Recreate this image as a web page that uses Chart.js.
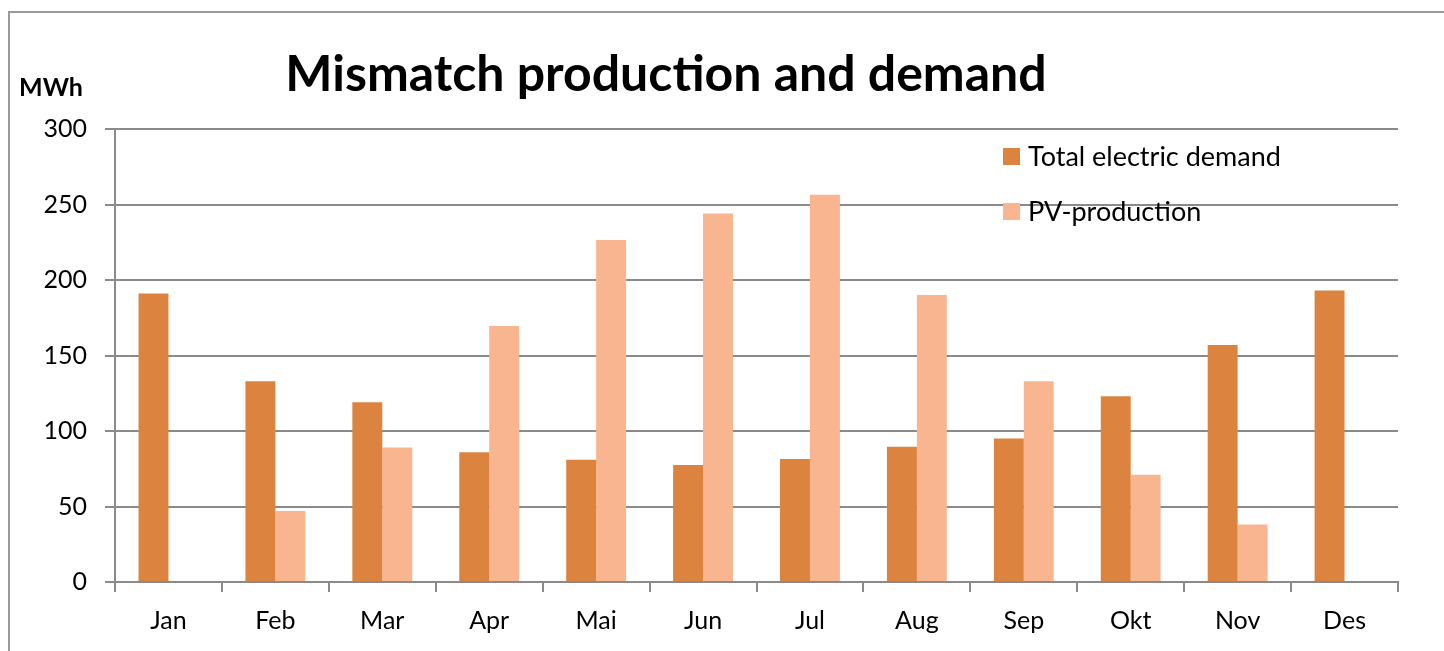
<!DOCTYPE html>
<html lang="en">
<head>
<meta charset="UTF-8">
<title>Mismatch production and demand</title>
<script src="https://cdn.jsdelivr.net/npm/chart.js"></script>
<style>
    html, body {
        margin: 0;
        padding: 0;
        background-color: #fff;
    }
    #wrap {
        width: 1444px;
        height: 651px;
        position: relative;
    }
</style>
</head>
<body>
<div id="wrap">
    <canvas id="mismatchChart" width="1444" height="651"></canvas>
</div>

<script>
    const months = ['Jan', 'Feb', 'Mar', 'Apr', 'Mai', 'Jun', 'Jul', 'Aug', 'Sep', 'Okt', 'Nov', 'Des'];
    const demandValues = [191, 133, 119, 86, 81, 77.5, 81.5, 89.5, 95, 123, 157, 193];
    const pvValues = [0, 47, 89, 169.5, 226.5, 244, 256.5, 190, 133, 71, 38, 0];
    const yTicks = [0, 50, 100, 150, 200, 250, 300];

    const fontFamily = 'Lato, "Open Sans", sans-serif';
    const gridGray = '#8a8a8a';

    // title, unit label, frame and legend drawn on the canvas
    const decorations = {
        id: 'decorations',
        afterDraw(chart) {
            const ctx = chart.ctx;
            ctx.save();
            ctx.strokeStyle = '#9a9a9a';
            ctx.lineWidth = 2;
            ctx.strokeRect(9, 12, 1500, 700);

            ctx.fillStyle = '#000';
            ctx.textAlign = 'center';
            ctx.textBaseline = 'middle';
            ctx.font = 'bold 50px ' + fontFamily;
            ctx.fillText('Mismatch production and demand', 666, 75);

            ctx.font = 'bold 25px ' + fontFamily;
            ctx.textAlign = 'left';
            ctx.fillText('MWh', 19, 88);

            ctx.font = '27px ' + fontFamily;
            const rows = [157, 212];
            chart.data.datasets.forEach((ds, i) => {
                ctx.fillStyle = ds.backgroundColor;
                ctx.fillRect(1003, rows[i] - 9, 17, 17);
                ctx.fillStyle = '#000';
                ctx.fillText(ds.label, 1028, rows[i]);
            });
            ctx.restore();
        }
    };

    const chart = new Chart(document.getElementById('mismatchChart'), {
        type: 'bar',
        data: {
            labels: months,
            datasets: [{
                label: 'Total electric demand',
                data: demandValues,
                backgroundColor: '#DC843F',
                categoryPercentage: 0.56,
                barPercentage: 1.0
            }, {
                label: 'PV-production',
                data: pvValues,
                backgroundColor: '#F8B590',
                categoryPercentage: 0.56,
                barPercentage: 1.0
            }]
        },
        options: {
            responsive: false,
            animation: false,
            layout: {
                padding: { left: 0, right: 46, top: 129, bottom: 0 }
            },
            scales: {
                x: {
                    grid: {
                        offset: true,
                        drawOnChartArea: false,
                        color: gridGray,
                        lineWidth: 2,
                        tickLength: 10
                    },
                    border: { color: gridGray, width: 2 },
                    ticks: {
                        color: '#000',
                        font: { family: fontFamily, size: 25 },
                        padding: 14
                    },
                    afterFit(scale) { scale.height = 69; }
                },
                y: {
                    min: 0,
                    max: 300,
                    afterBuildTicks(scale) {
                        scale.ticks = yTicks.map(v => ({ value: v }));
                    },
                    grid: {
                        color: gridGray,
                        lineWidth: 2,
                        tickLength: 10
                    },
                    border: { color: gridGray, width: 2 },
                    ticks: {
                        color: '#000',
                        font: { family: fontFamily, size: 25 },
                        padding: 18
                    },
                    afterFit(scale) { scale.width = 115; }
                }
            },
            plugins: {
                legend: { display: false },
                title: { display: false },
                tooltip: { enabled: false }
            }
        },
        plugins: [decorations]
    });
</script>
</body>
</html>
